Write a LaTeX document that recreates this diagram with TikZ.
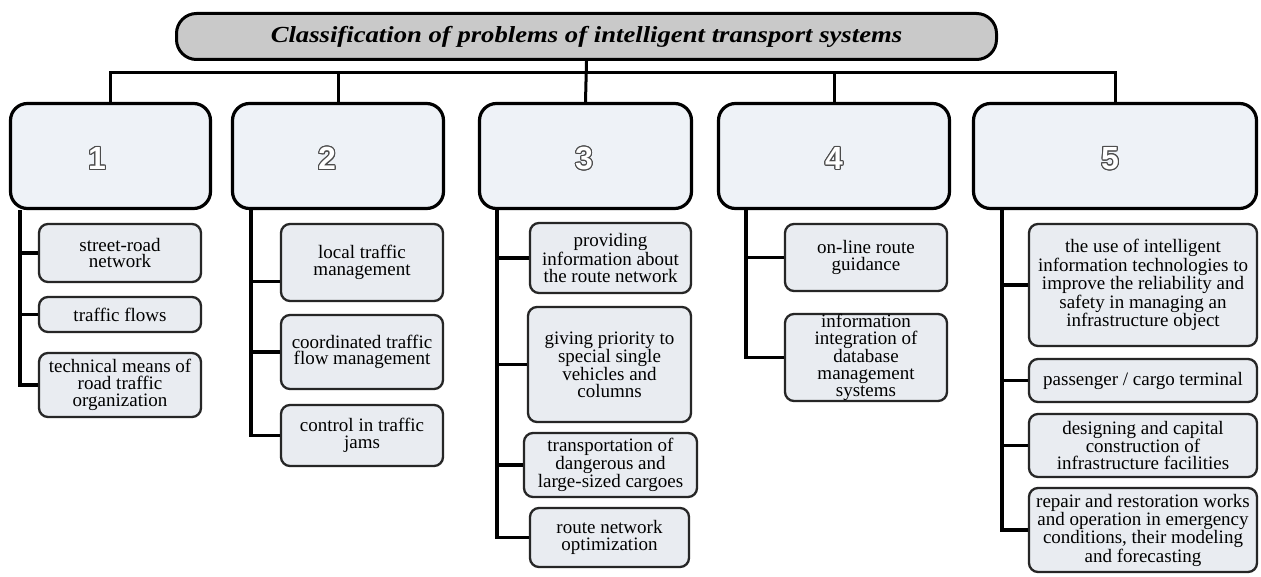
\documentclass[tikz,border=0pt]{standalone}
\usepackage{fontspec}
\setmainfont{Liberation Serif}
\newfontfamily\tfont[FakeStretch=1.16]{Liberation Serif}
\newfontfamily\dfont{Liberation Sans}
\usepackage{contour}
\contourlength{1.1pt}
\definecolor{bigfill}{HTML}{EEF2F7}
\definecolor{subfill}{HTML}{E9ECF1}
\definecolor{titlefill}{HTML}{C9C9C9}
\begin{document}
\begin{tikzpicture}[x=1pt,y=-1pt,
  big/.style={draw=black, line width=3.2pt, rounded corners=17pt, fill=bigfill, inner sep=0pt},
  sub/.style={draw=black!85, line width=2.3pt, rounded corners=9pt, fill=subfill, inner sep=0pt, align=center, font=\fontsize{19}{16.7}\selectfont},
  ttl/.style={draw=black, line width=3pt, rounded corners=20pt, fill=titlefill, inner sep=0pt, font=\tfont\bfseries\itshape\fontsize{23}{26}\selectfont},
  digit/.style={font=\dfont\bfseries\fontsize{32}{32}\selectfont, inner sep=0pt},
  bus/.style={line width=3pt},
  tree/.style={line width=3.8pt}
]
\useasboundingbox (0,0) rectangle (1261,577);
\fill[white] (0,0) rectangle (1261,577);

% title
\node[ttl, minimum width=820pt, minimum height=46pt] (title) at (586.5,36.5) {Classification of problems of intelligent transport systems};

% big boxes
\node[big, minimum width=200pt, minimum height=105pt] (b1) at (110.5,156) {};
\node[big, minimum width=211pt, minimum height=105pt] (b2) at (338,156) {};
\node[big, minimum width=212pt, minimum height=105pt] (b3) at (585.5,156) {};
\node[big, minimum width=231pt, minimum height=105pt] (b4) at (834,156) {};
\node[big, minimum width=283pt, minimum height=105pt] (b5) at (1115,156) {};

% digits
\node[digit] (d1) at (97,159) {\contour{black!70}{\textcolor{white}{1}}};
\node[digit] (d2) at (327,159) {\contour{black!70}{\textcolor{white}{2}}};
\node[digit] (d3) at (584,159) {\contour{black!70}{\textcolor{white}{3}}};
\node[digit] (d4) at (834,159) {\contour{black!70}{\textcolor{white}{4}}};
\node[digit] (d5) at (1110,159) {\contour{black!70}{\textcolor{white}{5}}};

% column 1
\node[sub, minimum width=162pt, minimum height=58pt] (s1a) at (120,253) {street-road\\network};
\node[sub, minimum width=162pt, minimum height=35pt] (s1b) at (120,314.5) {traffic flows};
\node[sub, minimum width=162pt, minimum height=64pt] (s1c) at (120,385) {technical means of\\road traffic\\organization};
% column 2
\node[sub, minimum width=162pt, minimum height=77pt] (s2a) at (362,262.5) {local traffic\\management};
\node[sub, minimum width=162pt, minimum height=74pt] (s2b) at (362,352) {coordinated traffic\\flow management};
\node[sub, minimum width=162pt, minimum height=61pt] (s2c) at (362,435.5) {control in traffic\\jams};
% column 3
\node[sub, minimum width=161pt, minimum height=70pt] (s3a) at (610.5,258) {providing\\information about\\the route network};
\node[sub, minimum width=163pt, minimum height=115pt] (s3b) at (609.5,364.5) {giving priority to\\special single\\vehicles and\\columns};
\node[sub, minimum width=173pt, minimum height=64pt] (s3c) at (610.5,465) {transportation of\\dangerous and\\large-sized cargoes};
\node[sub, minimum width=159pt, minimum height=59pt] (s3d) at (609.5,537.5) {route network\\optimization};
% column 4
\node[sub, minimum width=162pt, minimum height=67pt] (s4a) at (866,257.5) {on-line route\\guidance};
\node[sub, minimum width=162pt, minimum height=87pt] (s4b) at (866,357.5) {information\\integration of\\database\\management\\systems};
% column 5
\node[sub, minimum width=228pt, minimum height=122pt] (s5a) at (1143,285) {the use of intelligent\\information technologies to\\improve the reliability and\\safety in managing an\\infrastructure object};
\node[sub, minimum width=228pt, minimum height=43pt] (s5b) at (1143,380.5) {passenger / cargo terminal};
\node[sub, minimum width=228pt, minimum height=63pt] (s5c) at (1143,445.5) {designing and capital\\construction of\\infrastructure facilities};
\node[sub, minimum width=228pt, minimum height=84pt] (s5d) at (1143,530) {repair and restoration works\\and operation in emergency\\conditions, their modeling\\and forecasting};

% bus
\coordinate (bus) at (0,73);
\draw[bus] (title.south) -- (b3.north);
\draw[bus] (b1.north) -- (b1.north |- bus) -- (b5.north |- bus) -- (b5.north);
\draw[bus] (b2.north) -- (b2.north |- bus);
\draw[bus] (b4.north) -- (b4.north |- bus);

% tree trunks
\coordinate (t1) at (20,0);
\coordinate (t2) at (251,0);
\coordinate (t3) at (497,0);
\coordinate (t4) at (746,0);
\coordinate (t5) at (1002,0);
\coordinate (s2aj) at ([yshift=-19pt]s2a.west);

\draw[tree] (b1.south -| t1) |- (s1c.west);
\draw[tree] (s1a.west -| t1) -- (s1a.west);
\draw[tree] (s1b.west -| t1) -- (s1b.west);

\draw[tree] (b2.south -| t2) |- (s2c.west);
\draw[tree] (s2aj -| t2) -- (s2aj);
\draw[tree] (s2b.west -| t2) -- (s2b.west);

\draw[tree] (b3.south -| t3) |- (s3d.west);
\draw[tree] (s3a.west -| t3) -- (s3a.west);
\draw[tree] (s3b.west -| t3) -- (s3b.west);
\draw[tree] (s3c.west -| t3) -- (s3c.west);

\draw[tree] (b4.south -| t4) |- (s4b.west);
\draw[tree] (s4a.west -| t4) -- (s4a.west);

\draw[tree] (b5.south -| t5) |- (s5d.west);
\draw[tree] (s5a.west -| t5) -- (s5a.west);
\draw[tree] (s5b.west -| t5) -- (s5b.west);
\draw[tree] (s5c.west -| t5) -- (s5c.west);
\end{tikzpicture}
\end{document}
